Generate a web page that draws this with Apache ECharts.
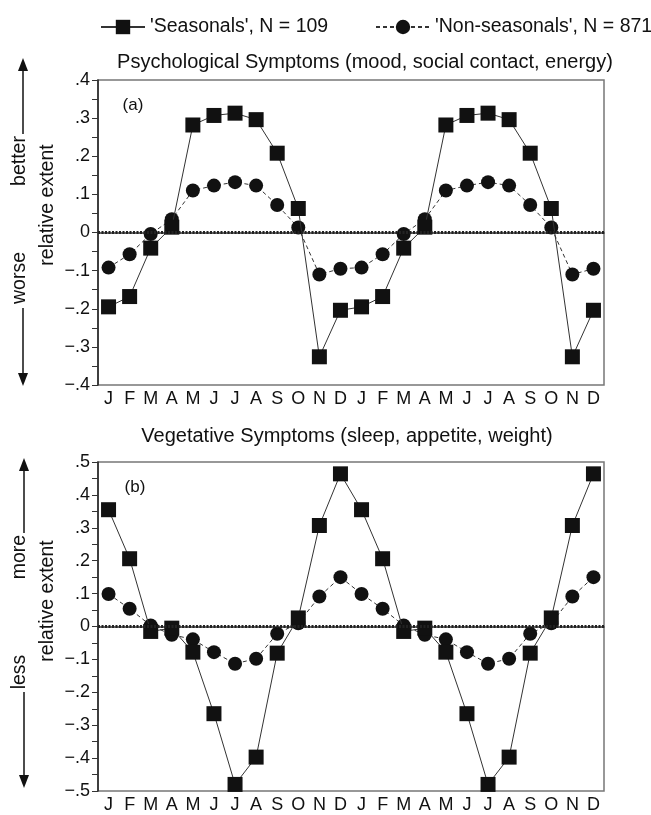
<!DOCTYPE html>
<html>
<head>
<meta charset="utf-8">
<script src="https://cdn.jsdelivr.net/npm/echarts@6/dist/echarts.min.js"></script>
<style>
    html, body { margin: 0; padding: 0; background: #fff; }
    #main { width: 651px; height: 815px; }
</style>
</head>
<body>
<div id="main"></div>
<script>
// month labels, two years side by side
var months = ['J', 'F', 'M', 'A', 'M', 'J', 'J', 'A', 'S', 'O', 'N', 'D',
              'J', 'F', 'M', 'A', 'M', 'J', 'J', 'A', 'S', 'O', 'N', 'D'];

// (a) psychological symptoms
var psySeasonal = [-0.195, -0.168, -0.041, 0.014, 0.282, 0.307, 0.313, 0.296, 0.208, 0.063, -0.326, -0.204,
                   -0.195, -0.168, -0.041, 0.014, 0.282, 0.307, 0.313, 0.296, 0.208, 0.063, -0.326, -0.204];
var psyNonSeasonal = [-0.092, -0.057, -0.004, 0.035, 0.110, 0.123, 0.132, 0.123, 0.072, 0.013, -0.110, -0.095,
                      -0.092, -0.057, -0.004, 0.035, 0.110, 0.123, 0.132, 0.123, 0.072, 0.013, -0.110, -0.095];

// (b) vegetative symptoms
var vegSeasonal = [0.355, 0.206, -0.015, -0.005, -0.078, -0.265, -0.480, -0.397, -0.081, 0.026, 0.307, 0.464,
                   0.355, 0.206, -0.015, -0.005, -0.078, -0.265, -0.480, -0.397, -0.081, 0.026, 0.307, 0.464];
var vegNonSeasonal = [0.099, 0.054, 0.003, -0.025, -0.039, -0.078, -0.113, -0.098, -0.022, 0.010, 0.091, 0.150,
                      0.099, 0.054, 0.003, -0.025, -0.039, -0.078, -0.113, -0.098, -0.022, 0.010, 0.091, 0.150];

var nameS = "'Seasonals', N = 109";
var nameN = "'Non-seasonals', N = 871";

var FONT = 'Liberation Sans, Arial, sans-serif';

function fmtTick(v) {
    if (Math.abs(v) < 1e-9) return '0';
    var s = Math.abs(v).toFixed(1).replace(/^0/, '');
    return (v < 0 ? '\u2212' : '') + s;
}

function xAxisCfg(idx) {
    return {
        type: 'category',
        gridIndex: idx,
        data: months,
        boundaryGap: true,
        axisLine: { lineStyle: { color: '#333', width: 1.5 } },
        axisTick: { alignWithLabel: true, length: 5, lineStyle: { color: '#333' } },
        axisLabel: { color: '#111', fontSize: 18, fontFamily: FONT, margin: 5, interval: 0 }
    };
}

function yAxisCfg(idx, lim) {
    return {
        type: 'value',
        gridIndex: idx,
        min: -lim,
        max: lim,
        interval: 0.1,
        splitLine: { show: false },
        axisLine: { show: true, lineStyle: { color: '#222', width: 1.5 } },
        axisTick: { show: true, length: 6, lineStyle: { color: '#333' } },
        minorTick: { show: true, splitNumber: 2, length: 6, lineStyle: { color: '#333' } },
        axisLabel: { color: '#111', fontSize: 18, fontFamily: FONT, margin: 8, formatter: fmtTick }
    };
}

function zeroLine() {
    return {
        silent: true,
        symbol: 'none',
        label: { show: false },
        lineStyle: { color: '#222', type: [2, 1.5], width: 3 },
        data: [{ yAxis: 0 }]
    };
}

function seasonalSeries(idx, data, withZero) {
    var s = {
        name: nameS,
        type: 'line',
        xAxisIndex: idx,
        yAxisIndex: idx,
        data: data,
        symbol: 'rect',
        symbolSize: 15,
        z: 3,
        itemStyle: { color: '#111' },
        lineStyle: { color: '#333', width: 1 }
    };
    if (withZero) s.markLine = zeroLine();
    return s;
}

function nonSeasonalSeries(idx, data) {
    return {
        name: nameN,
        type: 'line',
        xAxisIndex: idx,
        yAxisIndex: idx,
        data: data,
        symbol: 'circle',
        symbolSize: 14,
        z: 2,
        itemStyle: { color: '#111' },
        lineStyle: { color: '#333', width: 1, type: [4, 3] }
    };
}

// vertical annotation: arrow + word + "relative extent"
function arrowUp(x, yTip, yEnd) {
    return [
        { type: 'line', shape: { x1: x, y1: yTip + 8, x2: x, y2: yEnd }, style: { stroke: '#111', lineWidth: 1.5 } },
        { type: 'polygon', shape: { points: [[x, yTip], [x - 5, yTip + 13], [x + 5, yTip + 13]] }, style: { fill: '#111' } }
    ];
}
function arrowDown(x, yStart, yTip) {
    return [
        { type: 'line', shape: { x1: x, y1: yStart, x2: x, y2: yTip - 8 }, style: { stroke: '#111', lineWidth: 1.5 } },
        { type: 'polygon', shape: { points: [[x, yTip], [x - 5, yTip - 13], [x + 5, yTip - 13]] }, style: { fill: '#111' } }
    ];
}
function vText(txt, x, y) {
    return {
        type: 'text', x: x, y: y, rotation: Math.PI / 2,
        style: { text: txt, fill: '#111', fontSize: 19.5, fontFamily: FONT, align: 'center', verticalAlign: 'middle' }
    };
}
function hText(txt, x, y, size) {
    return {
        type: 'text', x: x, y: y,
        style: { text: txt, fill: '#111', fontSize: size, fontFamily: FONT, align: 'center', verticalAlign: 'middle' }
    };
}

var graphics = []
    .concat(arrowUp(23, 58, 134))
    .concat([vText('better', 20, 161), vText('relative extent', 48, 205), vText('worse', 20, 278)])
    .concat(arrowDown(23, 308, 386))
    .concat(arrowUp(24, 458, 533))
    .concat([vText('more', 20, 557), vText('relative extent', 48, 601), vText('less', 20, 672)])
    .concat(arrowDown(24, 692, 788))
    .concat([
        hText('Psychological Symptoms (mood, social contact, energy)', 365, 62, 20),
        hText('Vegetative Symptoms (sleep, appetite, weight)', 347, 436, 20),
        hText('(a)', 133, 105, 17),
        hText('(b)', 135, 487, 17)
    ]);

var myChart = echarts.init(document.getElementById('main'), null, { renderer: 'canvas' });

function legendCfg(name, left, w) {
    return {
        data: [name],
        left: left,
        top: 12,
        itemWidth: w,
        itemHeight: 18,
        textStyle: { color: '#111', fontSize: 19.5, fontFamily: FONT }
    };
}

var option = {
    animation: false,
    backgroundColor: '#fff',
    legend: [legendCfg(nameS, 95, 44), legendCfg(nameN, 370, 54)],
    grid: [
        { left: 98, right: 47, top: 80, bottom: 430, show: true, borderColor: '#777', borderWidth: 1.5 },
        { left: 98, right: 47, top: 462, bottom: 24, show: true, borderColor: '#777', borderWidth: 1.5 }
    ],
    xAxis: [xAxisCfg(0), xAxisCfg(1)],
    yAxis: [yAxisCfg(0, 0.4), yAxisCfg(1, 0.5)],
    graphic: graphics,
    series: [
        nonSeasonalSeries(0, psyNonSeasonal),
        seasonalSeries(0, psySeasonal, true),
        nonSeasonalSeries(1, vegNonSeasonal),
        seasonalSeries(1, vegSeasonal, true)
    ]
};

// 使用刚指定的配置项和数据显示图表。
myChart.setOption(option);
window.onresize = myChart.resize;
</script>
</body>
</html>
